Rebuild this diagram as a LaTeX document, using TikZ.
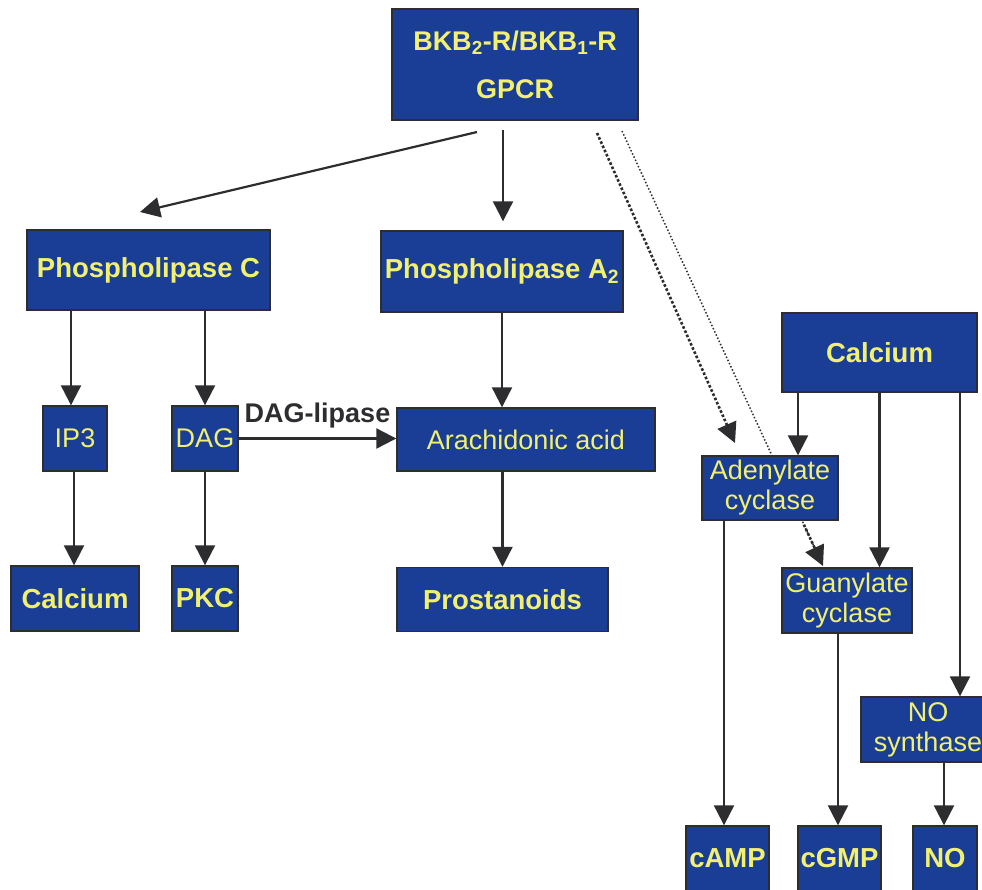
\documentclass[tikz,border=0pt]{standalone}
\usepackage{fontspec}
\setmainfont{Liberation Sans}
\usetikzlibrary{arrows.meta,calc}
\definecolor{boxblue}{RGB}{26,62,150}
\definecolor{boxtext}{RGB}{242,240,112}
\definecolor{edge}{RGB}{45,45,48}
\begin{document}
\begin{tikzpicture}[x=1pt,y=-1pt,
  box/.style={draw=edge,line width=1.4pt,fill=boxblue,text=boxtext,align=center,
    inner sep=0pt,font=\fontsize{27}{30}\selectfont},
  bbox/.style={box,font=\fontsize{27.5}{30}\selectfont\bfseries},
  arr/.style={draw=edge,line width=2.2pt,-{Triangle[length=20pt,width=20pt]}},
  dotarr/.style={draw=edge,line width=2.6pt,dotted,-{Triangle[length=20pt,width=20pt]}},
  dotline/.style={draw=edge,line width=1.5pt,dotted}]
\useasboundingbox (0,0) rectangle (982,889);
\fill[white] (0,0) rectangle (982,889);
% nodes
\node[bbox,minimum width=246pt,minimum height=111pt,font=\fontsize{27}{48}\selectfont\bfseries] (top) at (515,64.5) {BKB\textsubscript{2}-R/BKB\textsubscript{1}-R\\GPCR};
\node[bbox,minimum width=243pt,minimum height=80pt] (plc) at (148.5,270) {Phospholipase C};
\node[bbox,minimum width=242pt,minimum height=81pt] (pla) at (502,271.5) {Phospholipase A\textsubscript{2}};
\node[box,minimum width=64pt,minimum height=65pt] (ip3) at (75,438.5) {IP3};
\node[box,minimum width=66pt,minimum height=65pt] (dag) at (205,438.5) {DAG};
\node[box,minimum width=258pt,minimum height=63pt] (ara) at (526,439.5) {Arachidonic acid};
\node[bbox,minimum width=128pt,minimum height=65pt] (call) at (75,598.5) {Calcium};
\node[bbox,minimum width=66pt,minimum height=65pt] (pkc) at (205,598.5) {PKC};
\node[bbox,minimum width=211pt,minimum height=64pt] (pros) at (502.5,599.5) {Prostanoids};
\node[bbox,minimum width=195pt,minimum height=79pt] (calr) at (879.5,352.5) {Calcium};
% dotted lines first (behind boxes)
\coordinate (d1s) at (597,133);
\coordinate (d1e) at (735,443);
\coordinate (d2s) at (622,131);
\coordinate (d2e) at (823,566);
\coordinate (pcs) at (477,132);
\coordinate (pce) at (140,212);
\draw[dotline] (d2s) -- (d2e);
\node[box,minimum width=136pt,minimum height=64pt] (aden) at (770,488) {Adenylate\\cyclase};
\node[box,minimum width=130pt,minimum height=65pt] (guan) at (847,600.5) {Guanylate\\cyclase};
\node[box,minimum width=134pt,minimum height=65pt] (nos) at (928,729.5) {NO\\synthase};
\node[bbox,minimum width=83pt,minimum height=65pt] (camp) at (727.5,858.5) {cAMP};
\node[bbox,minimum width=83pt,minimum height=65pt] (cgmp) at (839.5,858.5) {cGMP};
\node[bbox,minimum width=64pt,minimum height=65pt] (no) at (945,858.5) {NO};
% lower thick part of the dotted connector to guanylate cyclase
\coordinate (d3s) at ($(d2s)!0.905!(d2e)$);
\draw[dotarr] (d3s) -- (d2e);
\draw[dotarr] (d1s) -- (d1e);
% connectors
\draw[arr] (pcs) -- (pce);
\draw[arr,shorten <=9pt,shorten >=9pt] ([xshift=-12pt]top.south) -- ([xshift=1pt]pla.north);
\draw[arr] (plc.south -| ip3) ++(-4,0) coordinate (a1) -- (a1 |- ip3.north);
\draw[arr] (plc.south -| dag) -- (dag.north);
\draw[arr] (pla.south) -- (pla.south |- ara.north);
\draw[arr] (dag.east) -- (dag.east -| ara.west) node[midway,above=6pt,text=edge,font=\fontsize{27}{30}\selectfont\bfseries] (lip) {DAG-lipase};
\draw[arr] (ip3.south) ++(-1,0) coordinate (a2) -- (a2 |- call.north);
\draw[arr] (dag.south) -- (pkc.north);
\draw[arr] (ara.south -| pros) -- (pros.north);
\draw[arr] (calr.south) ++(-81.5,0) coordinate (c1) -- (c1 |- aden.north);
\draw[arr] (calr.south) -- (calr.south |- guan.north);
\draw[arr] (calr.south) ++(80.5,0) coordinate (c3) -- (c3 |- nos.north);
\draw[arr] (aden.south) ++(-46,0) coordinate (e1) -- (e1 |- camp.north);
\draw[arr] (guan.south) ++(-9,0) coordinate (e2) -- (e2 |- cgmp.north);
\draw[arr] (nos.south) ++(16,0) coordinate (e3) -- (e3 |- no.north);
\end{tikzpicture}
\end{document}
